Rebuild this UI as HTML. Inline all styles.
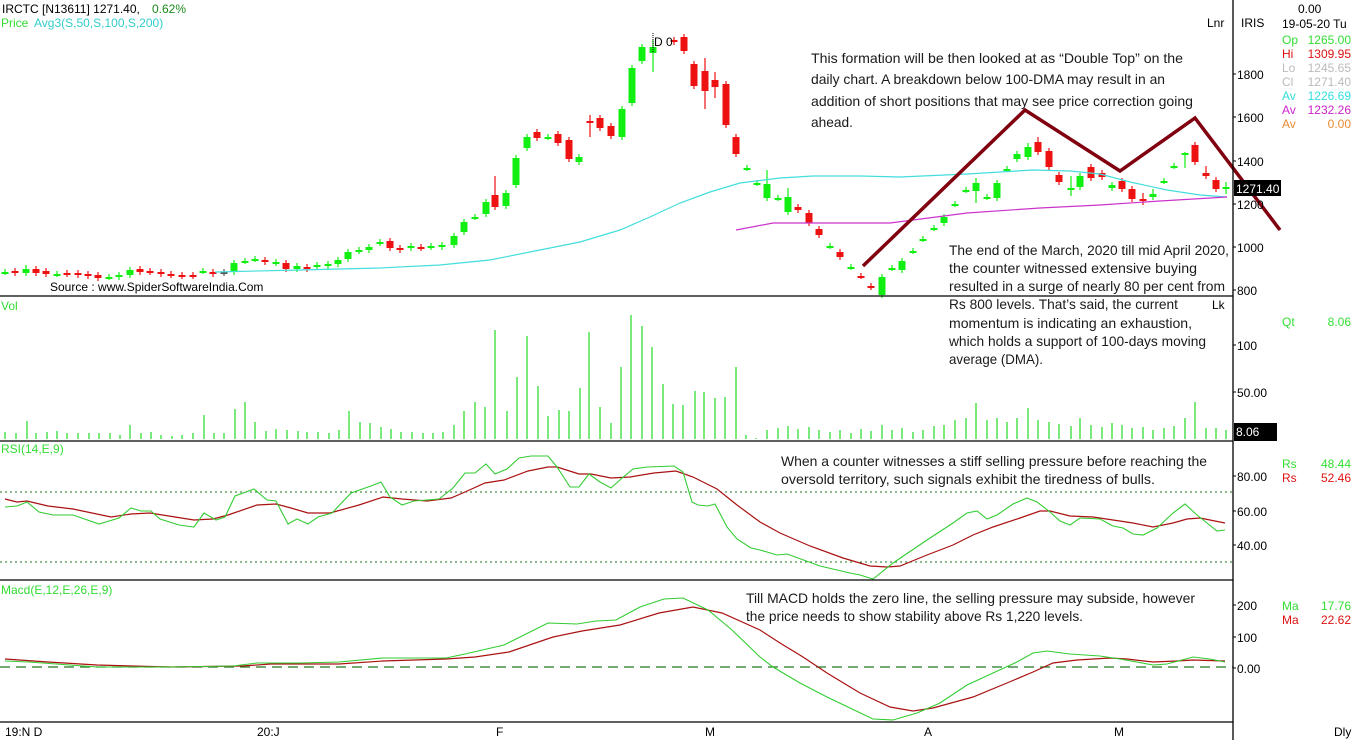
<!DOCTYPE html>
<html><head><meta charset="utf-8"><style>
html,body{margin:0;padding:0;background:#fff;}
svg{display:block;font-family:"Liberation Sans",sans-serif;}
</style></head><body>
<svg id="s" width="1352" height="740" viewBox="0 0 1352 740" xmlns="http://www.w3.org/2000/svg">
<rect width="1352" height="740" fill="#fff"/>
<g id="g"></g>
<!-- panel separators -->
<g stroke="#000" stroke-width="1.3">
<line x1="0" y1="296" x2="1233" y2="296"/>
<line x1="0" y1="441" x2="1233" y2="441"/>
<line x1="0" y1="580" x2="1233" y2="580"/>
<line x1="0" y1="722" x2="1233" y2="722"/>
<line x1="1233" y1="0" x2="1233" y2="740"/>
</g>
<!-- header text -->
<text x="2" y="13" font-size="12" fill="#000">IRCTC [N13611] 1271.40,</text>
<text x="152" y="13" font-size="12" fill="#1a8a1a">0.62%</text>
<text x="1" y="27" font-size="12" fill="#33dd33">Price</text>
<text x="34" y="27" font-size="12" fill="#33cccc">Avg3(S,50,S,100,S,200)</text>
<text x="50" y="291" font-size="12" fill="#000">Source : www.SpiderSoftwareIndia.Com</text>
<text x="1" y="310" font-size="12" fill="#33dd33">Vol</text>
<text x="1" y="453" font-size="12" fill="#33dd33">RSI(14,E,9)</text>
<text x="1" y="594" font-size="12" fill="#33dd33">Macd(E,12,E,26,E,9)</text>
<text x="1207" y="27" font-size="12" fill="#000">Lnr</text>
<text x="1212" y="309" font-size="12" fill="#000">Lk</text>
<!-- D 0 -->
<line x1="653" y1="33" x2="653" y2="52" stroke="#000" stroke-dasharray="1,1"/>
<text x="654" y="46" font-size="12" fill="#000">D 0</text>
<!-- right axis -->
<g font-size="12" fill="#000">
<text x="1241" y="27">IRIS</text>
<text x="1298" y="13">0.00</text>
<text x="1282" y="28">19-05-20 Tu</text>
<text x="1237" y="79">1800</text>
<text x="1237" y="122">1600</text>
<text x="1237" y="166">1400</text>
<text x="1237" y="209">1200</text>
<text x="1237" y="252">1000</text>
<text x="1237" y="295">800</text>
<text x="1237" y="350">100</text>
<text x="1237" y="397">50.00</text>
<text x="1237" y="481">80.00</text>
<text x="1237" y="516">60.00</text>
<text x="1237" y="550">40.00</text>
<text x="1237" y="610">200</text>
<text x="1237" y="642">100</text>
<text x="1237" y="673">0.00</text>
<text x="1334" y="736">Dly</text>
<text x="5" y="736">19:N D</text>
<text x="257" y="736">20:J</text>
<text x="496" y="736">F</text>
<text x="705" y="736">M</text>
<text x="924" y="736">A</text>
<text x="1114" y="736">M</text>
</g>
<g stroke="#000"><line x1="1233" y1="74" x2="1236" y2="74"/><line x1="1233" y1="117" x2="1236" y2="117"/><line x1="1233" y1="161" x2="1236" y2="161"/><line x1="1233" y1="204" x2="1236" y2="204"/><line x1="1233" y1="247" x2="1236" y2="247"/><line x1="1233" y1="290" x2="1236" y2="290"/><line x1="1233" y1="345" x2="1236" y2="345"/><line x1="1233" y1="392" x2="1236" y2="392"/><line x1="1233" y1="476" x2="1236" y2="476"/><line x1="1233" y1="511" x2="1236" y2="511"/><line x1="1233" y1="545" x2="1236" y2="545"/><line x1="1233" y1="605" x2="1236" y2="605"/><line x1="1233" y1="637" x2="1236" y2="637"/><line x1="1233" y1="668" x2="1236" y2="668"/></g>
<rect x="1234" y="180" width="47" height="16" fill="#000"/>
<text x="1236" y="193" font-size="12" fill="#fff">1271.40</text>
<rect x="1234" y="423" width="43" height="18" fill="#000"/>
<text x="1236" y="436" font-size="12" fill="#fff">8.06</text>
<g font-size="12">
<text x="1282" y="44" fill="#33dd33">Op</text><text x="1351" y="44" fill="#33dd33" text-anchor="end">1265.00</text>
<text x="1282" y="58" fill="#dd1111">Hi</text><text x="1351" y="58" fill="#dd1111" text-anchor="end">1309.95</text>
<text x="1282" y="72" fill="#bbbbbb">Lo</text><text x="1351" y="72" fill="#bbbbbb" text-anchor="end">1245.65</text>
<text x="1282" y="86" fill="#bbbbbb">Cl</text><text x="1351" y="86" fill="#bbbbbb" text-anchor="end">1271.40</text>
<text x="1282" y="100" fill="#33dddd">Av</text><text x="1351" y="100" fill="#33dddd" text-anchor="end">1226.69</text>
<text x="1282" y="114" fill="#cc22cc">Av</text><text x="1351" y="114" fill="#cc22cc" text-anchor="end">1232.26</text>
<text x="1282" y="128" fill="#e88a33">Av</text><text x="1351" y="128" fill="#e88a33" text-anchor="end">0.00</text>
<text x="1282" y="326" fill="#33dd33">Qt</text><text x="1351" y="326" fill="#33dd33" text-anchor="end">8.06</text>
<text x="1282" y="468" fill="#33dd33">Rs</text><text x="1351" y="468" fill="#33dd33" text-anchor="end">48.44</text>
<text x="1282" y="482" fill="#dd1111">Rs</text><text x="1351" y="482" fill="#dd1111" text-anchor="end">52.46</text>
<text x="1282" y="610" fill="#33dd33">Ma</text><text x="1351" y="610" fill="#33dd33" text-anchor="end">17.76</text>
<text x="1282" y="624" fill="#dd1111">Ma</text><text x="1351" y="624" fill="#dd1111" text-anchor="end">22.62</text>
</g>
<!-- annotations -->
<g font-size="14" fill="#1a1a1a" lengthAdjust="spacingAndGlyphs">
<text x="811" y="63" textLength="372" lengthAdjust="spacingAndGlyphs">This formation will be then looked at as “Double Top” on the</text>
<text x="811" y="84" textLength="354" lengthAdjust="spacingAndGlyphs">daily chart. A breakdown below 100-DMA may result in an</text>
<text x="811" y="106" textLength="382" lengthAdjust="spacingAndGlyphs">addition of short positions that may see price correction going</text>
<text x="811" y="127" textLength="42" lengthAdjust="spacingAndGlyphs">ahead.</text>
<text x="949" y="255" textLength="280" lengthAdjust="spacingAndGlyphs">The end of the March, 2020 till mid April 2020,</text>
<text x="949" y="273" textLength="248" lengthAdjust="spacingAndGlyphs">the counter witnessed extensive buying</text>
<text x="949" y="291" textLength="276" lengthAdjust="spacingAndGlyphs">resulted in a surge of nearly 80 per cent from</text>
<text x="949" y="309" textLength="229" lengthAdjust="spacingAndGlyphs">Rs 800 levels.  That’s said, the current</text>
<text x="949" y="328" textLength="243" lengthAdjust="spacingAndGlyphs">momentum is indicating an exhaustion,</text>
<text x="949" y="346" textLength="257" lengthAdjust="spacingAndGlyphs">which holds a support of 100-days moving</text>
<text x="949" y="364" textLength="94" lengthAdjust="spacingAndGlyphs">average (DMA).</text>
<text x="781" y="466" textLength="426" lengthAdjust="spacingAndGlyphs">When a counter witnesses a stiff selling pressure before reaching the</text>
<text x="781" y="484" textLength="374" lengthAdjust="spacingAndGlyphs">oversold territory, such signals exhibit the tiredness of bulls.</text>
<text x="746" y="603" textLength="449" lengthAdjust="spacingAndGlyphs">Till MACD holds the zero line, the selling pressure may subside, however</text>
<text x="746" y="621" textLength="337" lengthAdjust="spacingAndGlyphs">the price needs to show stability above Rs 1,220 levels.</text>
</g>
</svg>
<script>
var g=document.getElementById('g'),NS='http://www.w3.org/2000/svg';
function el(t,a){var e=document.createElementNS(NS,t);for(var k in a)e.setAttribute(k,a[k]);g.appendChild(e);return e;}
function pl(p,c,w,d){var s='';for(var i=0;i<p.length;i+=2)s+=p[i]+','+p[i+1]+' ';var a={points:s,fill:'none',stroke:c,'stroke-width':w||1};if(d)a['stroke-dasharray']=d;el('polyline',a);}
// candles [x, y1, y2, green, hi, lo]
var C=[[5,272,272,1],[15,271,273,0],[26,269,273,1,265],[36,269,273,0],[46,271,274,0],[57,274,274,1],[67,273,274,0],[78,273,275,0],[88,274,276,0],[98,275,278,0],[109,277,277,1],[119,275,277,1],[130,270,275,1],[140,269,272,0],[150,271,272,0],[161,272,274,0],[171,274,275,0],[182,275,276,0],[193,275,276,0],[203,271,271,1],[213,272,274,0],[224,272,273,2],[234,263,272,1],[245,261,261,1],[255,259,259,1],[265,260,262,0],[276,262,263,1],[286,263,269,0],[297,266,269,1],[307,267,269,0],[317,265,266,1],[328,264,266,1],[338,260,264,1],[348,252,259,1],[359,250,251,1],[369,247,250,1],[380,242,243,1],[390,241,248,0],[400,248,250,0],[411,246,248,1],[421,247,248,0],[431,246,247,1],[442,245,247,1],
[454,236,245,1],[464,222,232,1],[475,217,217,1],[486,202,214,1],[495,195,207,0,176],[506,193,206,1],[516,158,185,1],[527,137,148,1],[537,132,138,0],[548,137,137,1],[558,134,143,0],[569,140,159,0],[579,157,162,1],[590,121,121,0,115,137],[600,118,128,0],[611,126,136,0],[622,109,137,1],[632,68,103,1],[642,47,61,1],[653,47,53,1,40,72],[674,40,42,0],[684,37,51,0],[694,64,86,0],[705,71,91,0,58,109],[715,80,87,0,72,98],[726,84,125,0],[736,137,154,0],[747,168,168,1],[757,183,183,1],[767,184,198,1,170],[778,198,198,1],[788,197,212,1,188],[798,207,210,0],[809,213,223,0],[819,229,235,0],[830,246,246,1],[840,252,257,0],[851,267,267,1],[861,276,276,0],[871,286,287,0],[882,277,295,1],
[892,268,268,1],[902,261,270,1],[913,251,251,1],[923,239,239,1],[934,228,228,1],[944,217,223,1],[955,204,204,1],[966,190,190,1],[976,183,191,1,178,203],[987,197,197,1],[997,183,198,1],[1007,169,169,1],[1017,154,159,1],[1028,147,157,1,143],[1038,142,152,0,137],[1049,151,167,0],[1059,175,182,0],[1071,188,188,1,176,196],[1080,176,187,1],[1091,167,178,0],[1102,173,177,0],[1112,185,188,1],[1122,181,189,0],[1132,189,199,0],[1143,199,199,0,193,205],[1153,194,197,1,189],[1164,181,181,1],[1174,166,166,1],[1185,153,153,1,152,168],[1195,145,162,0],[1206,173,176,0,166],[1216,180,189,0],[1226,187,189,1,182,194]];
C.forEach(function(c){var col=c[3]==1?'#11ee11':(c[3]==0?'#ee1111':'#555');var hi=c[4]||Math.min(c[1],c[2])-3,lo=c[5]||Math.max(c[1],c[2])+3;
el('line',{x1:c[0],y1:hi,x2:c[0],y2:lo,stroke:col,'stroke-width':1.2});
var h=Math.max(c[2]-c[1],2);el('rect',{x:c[0]-3.5,y:c[1],width:7,height:h,fill:col});});
// moving averages
pl([215,272,300,270,380,268,440,265,490,260,540,250,580,242,620,230,650,217,680,203,710,192,740,183,780,178,813,176,860,176,900,177,967,174,1033,170,1070,171,1100,174,1130,182,1167,190,1200,195,1227,197],'#44dddd',1.2);
pl([736,230,773,223,890,223,967,213,1040,208,1100,205,1160,201,1227,197],'#cc33cc',1.2);
// double top lines
pl([863,266,1025,110,1120,171,1195,118,1280,230],'#800010',3.5);
// volume
var V=[[5,432],[16,433],[27,421],[36,433],[47,432],[57,431],[67,433],[78,433],[89,433],[99,433],[110,433],[120,435],[130,425],[141,433],[151,432],[161,435],[172,436],[182,435],[193,433],[204,415],[214,433],[224,433],[235,409],[245,402],[255,422],[266,431],[276,429],[287,430],[298,431],[307,432],[318,432],[329,433],[339,430],[349,411],[360,422],[370,423],[381,427],[391,429],[401,432],[412,432],[423,433],[433,433],[443,432],[454,425],[464,411],[475,402],[485,407],[495,330],[507,411],[517,377],[527,336],[538,386],[548,416],[559,410],[569,411],[580,388],[589,332],[600,407],[611,423],[621,367],[631,315],[642,326],[652,347],[663,384],[673,404],[683,405],[695,391],[704,392],[715,398],[725,397],[736,367],[746,435],[756,438],[767,430],[778,428],[788,426],[798,429],[809,427],[819,430],[830,432],[840,430],[851,433],[861,429],[871,431],[882,425],[892,430],[902,428],[913,432],[923,430],[934,426],[944,425],[955,420],[966,418],[976,403],[987,420],[997,418],[1007,422],[1017,418],[1028,408],[1038,420],[1049,422],[1059,424],[1071,426],[1080,418],[1091,425],[1102,427],[1112,423],[1122,425],[1132,428],[1143,427],[1153,430],[1164,428],[1174,426],[1185,418],[1195,402],[1206,428],[1216,428],[1226,430]];
V.forEach(function(v){el('line',{x1:v[0],y1:v[1],x2:v[0],y2:439,stroke:'#22dd22','stroke-width':1.2});});
// RSI
pl([0,492,1233,492],'#227722',1,'2,3');pl([0,562,1233,562],'#227722',1,'2,3');
pl([5,499,17,502,27,501,48,506,73,509,111,517,131,514,150,513,175,517,194,520,213,519,228,515,257,505,276,504,291,508,308,513,330,513,359,505,383,497,402,499,427,501,451,498,465,492,485,483,504,480,528,471,548,467,557,467,579,474,591,474,611,478,630,477,654,473,676,471,693,477,717,489,737,505,760,522,780,533,810,546,843,558,870,566,887,567,900,566,927,555,953,545,973,535,993,527,1020,518,1040,511,1050,511,1070,516,1093,517,1113,520,1133,523,1153,527,1173,523,1187,519,1200,518,1225,523],'#aa1111',1.2);
pl([5,507,17,506,27,502,39,512,53,515,73,515,99,524,119,518,131,508,141,511,151,511,160,519,179,525,194,527,204,513,216,520,225,517,235,496,254,489,267,500,276,501,288,524,297,519,308,524,318,517,332,513,351,493,371,486,381,482,390,497,402,505,414,501,439,499,453,488,465,473,475,473,486,464,495,474,507,469,519,458,531,456,548,456,557,467,570,487,579,487,589,474,600,482,611,488,621,479,633,469,647,467,674,466,683,472,692,502,698,505,708,506,715,504,727,527,737,539,751,548,760,550,777,555,787,554,820,566,850,573,860,575,873,579,893,563,927,540,953,523,967,513,977,511,987,519,997,515,1013,504,1027,498,1037,502,1050,512,1060,521,1070,525,1080,518,1100,519,1113,526,1123,528,1133,534,1143,535,1157,528,1173,513,1185,504,1197,515,1207,523,1217,531,1225,530],'#33cc33',1.1);
// MACD
pl([0,667,1233,667],'#227722',1.2,'10,6');
pl([5,659,48,662,97,665,170,667,242,666,271,664,339,664,383,661,446,659,475,657,509,652,553,637,582,631,620,625,659,613,693,607,722,613,760,630,780,643,803,657,827,673,860,693,890,707,913,711,933,708,973,697,1007,683,1033,672,1053,663,1077,660,1110,658,1127,659,1153,662,1177,661,1193,660,1225,661],'#aa1111',1.2);
pl([5,661,29,662,97,667,170,667,233,666,257,663,300,663,339,662,383,658,446,658,465,654,504,645,524,635,548,623,577,624,596,621,616,620,640,607,664,599,683,598,708,610,732,630,760,657,773,667,800,683,827,697,850,708,873,719,893,720,917,713,940,703,967,685,993,673,1017,662,1033,653,1047,651,1070,654,1100,656,1120,659,1153,665,1167,664,1193,657,1210,659,1225,662],'#33cc33',1.1);
</script>
</body></html>
